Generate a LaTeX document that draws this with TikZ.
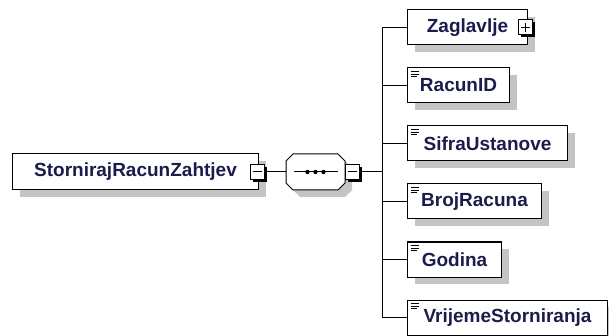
\documentclass[tikz,border=0pt]{standalone}
\usepackage{fontspec}
\setsansfont{Liberation Sans}
\usetikzlibrary{positioning,shadows}
\definecolor{elemtext}{HTML}{1C1C4C}
\definecolor{shadowgray}{HTML}{C4C4C4}
\tikzset{
  elem/.style={draw, line width=1pt, fill=white, font=\fontsize{19}{22}\sffamily\bfseries,
    text=elemtext, minimum height=35pt, inner xsep=0pt, anchor=west,
    drop shadow={shadow xshift=7pt, shadow yshift=-7pt, fill=shadowgray, opacity=1}},
  simple/.style={elem, path picture={
    \foreach \k/\l in {0/8,2.6/8,5.2/6}
      \draw[line width=1pt] ([xshift=3pt,yshift=-3.5pt-\k pt]path picture bounding box.north west) -- ++(\l pt,0);}},
  toggle/.style={draw, line width=1pt, fill=white, minimum width=14pt, minimum height=15pt,
    inner sep=0pt, drop shadow={shadow xshift=2.5pt, shadow yshift=-2.5pt, fill=black, opacity=1}},
  minusbox/.style={toggle, path picture={
    \draw[line width=1pt] ([xshift=-4.5pt]path picture bounding box.center) -- ([xshift=4.5pt]path picture bounding box.center);}},
  plusbox/.style={toggle, path picture={
    \draw[line width=1pt] ([xshift=-4.5pt]path picture bounding box.center) -- ([xshift=4.5pt]path picture bounding box.center);
    \draw[line width=1pt] ([yshift=-4.5pt]path picture bounding box.center) -- ([yshift=4.5pt]path picture bounding box.center);}},
  seqbox/.style={minimum width=59pt, minimum height=36pt, inner sep=0pt},
  octshadow/.style={fill=shadowgray, draw=none, transform canvas={shift={(7pt,-7pt)}}},
  octline/.style={fill=white, draw, line width=1pt},
  link/.style={line width=1pt},
}
\begin{document}
\begin{tikzpicture}[x=1pt, y=-1pt]
  \useasboundingbox (0,0) rectangle (609,336);
  % root element and sequence
  \node[elem, minimum width=246pt, minimum height=36pt] (root) at (12,172) {StornirajRacunZahtjev};
  \node[minusbox] (rootmin) at ([xshift=-2pt]root.east) {};
  \foreach \st in {octshadow, octline}
    \filldraw[\st] (293,154) -- (338,154) -- (345,161) -- (345,183) -- (338,190)
      -- (293,190) -- (286,183) -- (286,161) -- cycle;
  \node[seqbox] (seq) at (315.5,172) {};
  \draw[line width=1pt] ([xshift=-22pt]seq.center) -- ([xshift=22pt]seq.center);
  \foreach \d in {-8,0,8}
    \fill ([xshift=\d pt]seq.center) circle (2.2pt);
  \node[minusbox, anchor=west] (seqmin) at (seq.east) {};
  \coordinate (bus) at (382,172);
  \draw[link] (rootmin) -- (seq);
  \draw[link] (seqmin) -- (bus);
  % children
  \node[elem, minimum width=120pt] (zaglavlje) at (407,27.5) {Zaglavlje};
  \node[plusbox] (zagplus) at ([xshift=-3pt]zaglavlje.east) {};
  \draw[link] (zaglavlje.west) -| (bus);
  \foreach \nm/\lbl/\w/\y in {racunid/RacunID/102/85.5, sifra/SifraUstanove/160/143.5,
      broj/BrojRacuna/134/201.5, godina/Godina/94/259.5, vrijeme/VrijemeStorniranja/200/317.5} {
    \node[simple, minimum width=\w pt] (\nm) at (407,\y) {\lbl};
    \draw[link] (\nm.west) -| (bus);
  }
\end{tikzpicture}
\end{document}
